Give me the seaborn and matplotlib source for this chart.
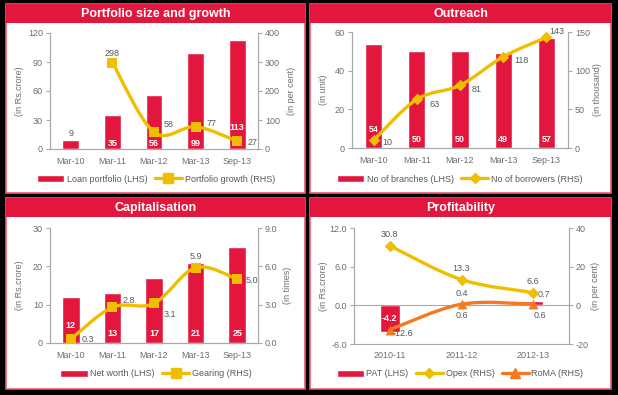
import numpy as np
import matplotlib
matplotlib.use("Agg")
import matplotlib.pyplot as plt
from matplotlib.patches import Rectangle, PathPatch, Patch
from matplotlib.path import Path
from matplotlib.lines import Line2D
import seaborn as sns

# ---- data ----
periods = ["Mar-10", "Mar-11", "Mar-12", "Mar-13", "Sep-13"]
loan_portfolio = [9, 35, 56, 99, 113]
portfolio_growth = [298, 58, 77, 27]      # Mar-11 .. Sep-13
branches = [54, 50, 50, 49, 57]
borrowers = [10, 63, 81, 118, 143]
net_worth = [12, 13, 17, 21, 25]
gearing = [0.3, 2.8, 3.1, 5.9, 5.0]
years = ["2010-11", "2011-12", "2012-13"]
pat = [-4.2, 0.4, 0.7]
opex = [30.8, 13.3, 6.6]
roma = [-12.6, 0.6, 0.6]

RED = "#E3173E"
YELLOW = "#F0BE00"
ORANGE = "#F47920"
GREY = "#6D6E71"
TEXT = "#58595B"
AXIS = "#A7A9AC"
BORDER = "#EC5A6E"
FS = 6.5

W, H = 618, 395
PX = 0.72  # points per pixel at 100 dpi

sns.set_theme(style="white")
plt.rcParams["font.family"] = ["Liberation Sans", "DejaVu Sans"]
plt.rcParams["axes.unicode_minus"] = False

fig = plt.figure(figsize=(6.18, 3.95), dpi=100, facecolor="black")


def frame(l, t, r, b, title):
    fig.add_artist(Rectangle((l / W, 1 - b / H), (r - l) / W, (b - t) / H,
                             transform=fig.transFigure, facecolor="white",
                             edgecolor=BORDER, lw=1.2, zorder=-2))
    fig.add_artist(Rectangle((l / W, 1 - (t + 19) / H), (r - l) / W, 19 / H,
                             transform=fig.transFigure, facecolor=RED,
                             edgecolor="none", zorder=-1))
    fig.text((l + r) / 2 / W, 1 - (t + 10) / H, title, color="white",
             fontsize=9, fontweight="bold", ha="center", va="center")


def make_axes(l, t, r, b, n, left_label, right_label, lx, rx):
    ax = fig.add_axes([l / W, 1 - b / H, (r - l) / W, (b - t) / H])
    ax.patch.set_visible(False)
    ax2 = ax.twinx()
    for a in (ax, ax2):
        for s in a.spines.values():
            s.set_color(AXIS)
            s.set_linewidth(0.8)
        a.spines["top"].set_visible(False)
        a.tick_params(axis="y", direction="out", length=3, width=0.8,
                      color=AXIS, labelcolor=GREY, labelsize=FS, pad=2)
    ax.set_xticks(np.arange(n + 1) - 0.5, minor=True)
    ax.tick_params(axis="x", which="minor", direction="out", length=3,
                   width=0.8, color=AXIS)
    ax.tick_params(axis="x", which="major", length=0, pad=6,
                   labelcolor=GREY, labelsize=FS)
    yc = 1 - (t + b) / 2 / H
    fig.text(lx / W, yc, left_label, rotation=90, ha="center", va="center",
             color=GREY, fontsize=FS)
    fig.text(rx / W, yc, right_label, rotation=90, ha="center", va="center",
             color=GREY, fontsize=FS)
    return ax, ax2


def smooth_line(ax, xs, ys, color):
    pts = list(zip(xs, ys))
    verts, codes = [pts[0]], [Path.MOVETO]
    for i in range(len(pts) - 1):
        p0 = pts[i - 1] if i > 0 else pts[i]
        p1, p2 = pts[i], pts[i + 1]
        p3 = pts[i + 2] if i + 2 < len(pts) else p2
        c1 = (p1[0] + (p2[0] - p0[0]) / 6, p1[1] + (p2[1] - p0[1]) / 6)
        c2 = (p2[0] - (p3[0] - p1[0]) / 6, p2[1] - (p3[1] - p1[1]) / 6)
        verts += [c1, c2, p2]
        codes += [Path.CURVE4] * 3
    ax.add_patch(PathPatch(Path(verts, codes), fill=False, edgecolor=color,
                           lw=2.4, capstyle="round", joinstyle="round", zorder=3))


def label(ax, text, x, y, dx, dy, color=TEXT, bold=False):
    ax.annotate(text, (x, y), xytext=(dx * PX, dy * PX), textcoords="offset points",
                ha="center", va="center", fontsize=FS, color=color,
                fontweight="bold" if bold else "normal", zorder=5)


def legend(handles, labels, cx, cy, ncol):
    fig.legend(handles, labels, loc="center", bbox_to_anchor=(cx / W, 1 - cy / H),
               ncol=ncol, frameon=False, fontsize=FS, labelcolor=TEXT,
               handlelength=3.0, handleheight=0.85, handletextpad=0.3,
               columnspacing=0.8)


for f in [(6, 4, 305, 193, "Portfolio size and growth"),
          (310, 4, 611, 193, "Outreach"),
          (6, 198, 305, 389, "Capitalisation"),
          (310, 198, 611, 389, "Profitability")]:
    frame(*f)

pos5 = np.arange(len(periods))
pos3 = np.arange(len(years))

# ---- Portfolio size and growth ----
ax, ax2 = make_axes(50, 33, 258, 149, 5, "(in Rs.crore)", "(in per cent)", 19, 292)
sns.barplot(x=periods, y=loan_portfolio, ax=ax, color=RED, saturation=1, width=0.4)
smooth_line(ax2, pos5[1:], portfolio_growth, YELLOW)
sns.scatterplot(x=pos5[1:], y=portfolio_growth, ax=ax2, marker="s", s=45,
                color=YELLOW, linewidth=0, zorder=4, legend=False)
ax.set_ylim(0, 120)
ax.set_yticks([0, 30, 60, 90, 120])
ax2.set_ylim(0, 400)
ax2.set_yticks([0, 100, 200, 300, 400])
ax.set_xlim(-0.5, 4.5)
label(ax, str(loan_portfolio[0]), 0, loan_portfolio[0], 0, 7)
for i, dy in zip(range(1, 5), [6, 6, 6, 21]):
    label(ax, str(loan_portfolio[i]), i, 0, 0, dy, color="white", bold=True)
for x, v, (dx, dy) in zip(pos5[1:], portfolio_growth, [(0, 9), (15, 8), (16, 3), (15, -1)]):
    label(ax2, str(v), x, v, dx, dy)
legend([Patch(facecolor=RED), Line2D([], [], color=YELLOW, lw=2.4, marker="s", ms=6.5)],
       ["Loan portfolio (LHS)", "Portfolio growth (RHS)"], 156, 179, 2)

# ---- Outreach ----
ax, ax2 = make_axes(352, 32, 568, 148, 5, "(in unit)", "(in thousand)", 324, 597)
sns.barplot(x=periods, y=branches, ax=ax, color=RED, saturation=1, width=0.4)
smooth_line(ax2, pos5, borrowers, YELLOW)
sns.scatterplot(x=pos5, y=borrowers, ax=ax2, marker="D", s=35,
                color=YELLOW, linewidth=0, zorder=4, legend=False)
ax.set_ylim(0, 60)
ax.set_yticks([0, 20, 40, 60])
ax2.set_ylim(0, 150)
ax2.set_yticks([0, 50, 100, 150])
ax.set_xlim(-0.5, 4.5)
for i, dy in zip(pos5, [19, 8, 8, 8, 8]):
    label(ax, str(branches[i]), i, 0, 0, dy, color="white", bold=True)
for x, v, (dx, dy) in zip(pos5, borrowers, [(14, -2), (18, -5), (17, -4), (18, -4), (10, 6)]):
    label(ax2, str(v), x, v, dx, dy)
legend([Patch(facecolor=RED), Line2D([], [], color=YELLOW, lw=2.4, marker="D", ms=5.5)],
       ["No of branches (LHS)", "No of borrowers (RHS)"], 460, 179, 2)

# ---- Capitalisation ----
ax, ax2 = make_axes(50, 228, 258, 343, 5, "(in Rs.crore)", "(in times)", 20, 288)
sns.barplot(x=periods, y=net_worth, ax=ax, color=RED, saturation=1, width=0.42)
smooth_line(ax2, pos5, gearing, YELLOW)
sns.scatterplot(x=pos5, y=gearing, ax=ax2, marker="s", s=45,
                color=YELLOW, linewidth=0, zorder=4, legend=False)
ax.set_ylim(0, 30)
ax.set_yticks([0, 10, 20, 30])
ax2.set_ylim(0, 9)
ax2.set_yticks([0, 3, 6, 9])
ax2.set_yticklabels([f"{t:.1f}" for t in [0, 3, 6, 9]])
ax.set_xlim(-0.5, 4.5)
for i, dy in zip(pos5, [18, 9, 9, 9, 9]):
    label(ax, str(net_worth[i]), i, 0, 0, dy, color="white", bold=True)
for x, v, (dx, dy) in zip(pos5, gearing, [(17, 0), (16, 7), (16, -11), (0, 11), (15, -1)]):
    label(ax2, f"{v:.1f}", x, v, dx, dy)
legend([Patch(facecolor=RED), Line2D([], [], color=YELLOW, lw=2.4, marker="s", ms=6.5)],
       ["Net worth (LHS)", "Gearing (RHS)"], 156, 374, 2)

# ---- Profitability ----
ax, ax2 = make_axes(354, 228, 569, 344, 3, "(in Rs.crore)", "(in per cent)", 324, 596)
sns.barplot(x=years, y=pat, ax=ax, color=RED, saturation=1, width=0.27)
smooth_line(ax2, pos3, opex, YELLOW)
smooth_line(ax2, pos3, roma, ORANGE)
sns.scatterplot(x=pos3, y=opex, ax=ax2, marker="D", s=35,
                color=YELLOW, linewidth=0, zorder=4, legend=False)
sns.scatterplot(x=pos3, y=roma, ax=ax2, marker="^", s=50,
                color=ORANGE, linewidth=0, zorder=4, legend=False)
ax.set_ylim(-6, 12)
ax.set_yticks([-6, 0, 6, 12])
ax.set_yticklabels([f"{t:.1f}" for t in [-6, 0, 6, 12]])
ax2.set_ylim(-20, 40)
ax2.set_yticks([-20, 0, 20, 40])
ax.set_xlim(-0.5, 2.5)
ax.spines["bottom"].set_position(("data", 0))
ax.tick_params(axis="x", which="major", pad=33)
label(ax, f"{pat[0]:.1f}", 0, 0, 0, -13, color="white", bold=True)
label(ax, f"{pat[1]:.1f}", 1, pat[1], 0, 9)
label(ax, f"{pat[2]:.1f}", 2, pat[2], 11, 6)
for x, v in zip(pos3, opex):
    label(ax2, f"{v:.1f}", x, v, 0, 11)
for x, v, (dx, dy) in zip(pos3, roma, [(13, -4), (0, -11), (7, -11)]):
    label(ax2, f"{v:.1f}", x, v, dx, dy)
legend([Patch(facecolor=RED),
        Line2D([], [], color=YELLOW, lw=2.4, marker="D", ms=5.5),
        Line2D([], [], color=ORANGE, lw=2.4, marker="^", ms=6.5)],
       ["PAT (LHS)", "Opex (RHS)", "RoMA (RHS)"], 460, 374, 3)

for a in fig.axes:
    a.set_xlabel("")
    a.set_ylabel("")

fig.savefig("out.png", dpi=100, facecolor=fig.get_facecolor())
